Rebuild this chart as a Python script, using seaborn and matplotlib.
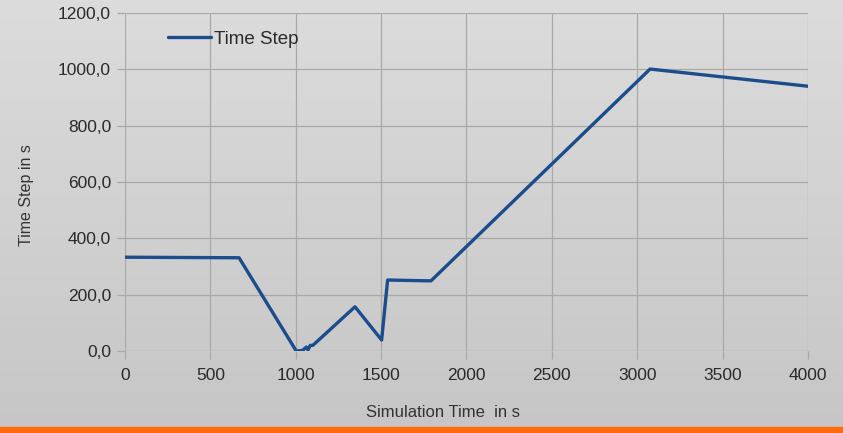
import numpy as np
import pandas as pd
import matplotlib
matplotlib.use("Agg")
import matplotlib.pyplot as plt
import seaborn as sns
from matplotlib.ticker import FuncFormatter

# Simulation time (s) and the adaptive time step (s)
sim_time = [0, 668, 1003, 1040, 1062, 1072, 1085, 1100, 1347, 1503, 1538, 1700, 1792, 3075, 4000]
time_step = [333, 331, 0, 2, 14, 4, 20, 20, 157, 39, 252, 250, 249, 1001, 940]

x_ticks = [0, 500, 1000, 1500, 2000, 2500, 3000, 3500, 4000]
y_ticks = [0, 200, 400, 600, 800, 1000, 1200]

df = pd.DataFrame({"Simulation Time  in s": sim_time, "Time Step in s": time_step})

sns.set_theme(style="white")
plt.rcParams["font.family"] = ["Liberation Sans", "DejaVu Sans"]

fig = plt.figure(figsize=(8.43, 4.33), dpi=100)

# soft grey gradient backdrop
bg = fig.add_axes([0, 0, 1, 1], zorder=-10)
grad = np.linspace(0, 1, 256).reshape(-1, 1)
cmap = matplotlib.colors.LinearSegmentedColormap.from_list("bg", ["#c6c6c6", "#dcdcdc"])
bg.imshow(grad, aspect="auto", cmap=cmap, extent=[0, 1, 0, 1], origin="lower")
bg.axhspan(0, 6 / 433, color="#ff6a10")
bg.set_xlim(0, 1)
bg.set_ylim(0, 1)
bg.axis("off")

ax = fig.add_axes([125 / 843, 1 - 351 / 433, 683 / 843, 338 / 433])
ax.patch.set_alpha(0)
sns.lineplot(data=df, x="Simulation Time  in s", y="Time Step in s", ax=ax,
             color="#1b4c8c", linewidth=2.4, label="Time Step")

ax.set_xlim(0, 4000)
ax.set_ylim(0, 1200)
ax.set_xticks(x_ticks)
ax.set_yticks(y_ticks)
ax.yaxis.set_major_formatter(FuncFormatter(lambda v, p: f"{v:.1f}".replace(".", ",")))
ax.grid(True, color="#a9a9a9", linewidth=0.9)
for s in ax.spines.values():
    s.set_visible(False)
ax.tick_params(axis="both", which="both", length=6, width=0.9, color="#a9a9a9",
               labelsize=12.5, labelcolor="#2a2a2a", left=True, bottom=True)
ax.tick_params(axis="x", pad=6)
ax.tick_params(axis="y", pad=4)

ax.set_xlabel("Simulation Time  in s", fontsize=12, color="#333333")
ax.set_ylabel("Time Step in s", fontsize=11.5, color="#333333")
ax.xaxis.set_label_coords(0.4656, -0.16)
ax.yaxis.set_label_coords(-0.133, 0.46)

leg = ax.legend(loc="upper left", bbox_to_anchor=(0.038, 0.997), frameon=False,
                fontsize=13.5, handlelength=2.3, handletextpad=0.15)
for t in leg.get_texts():
    t.set_color("#2a2a2a")

fig.savefig("out.png", dpi=100)
